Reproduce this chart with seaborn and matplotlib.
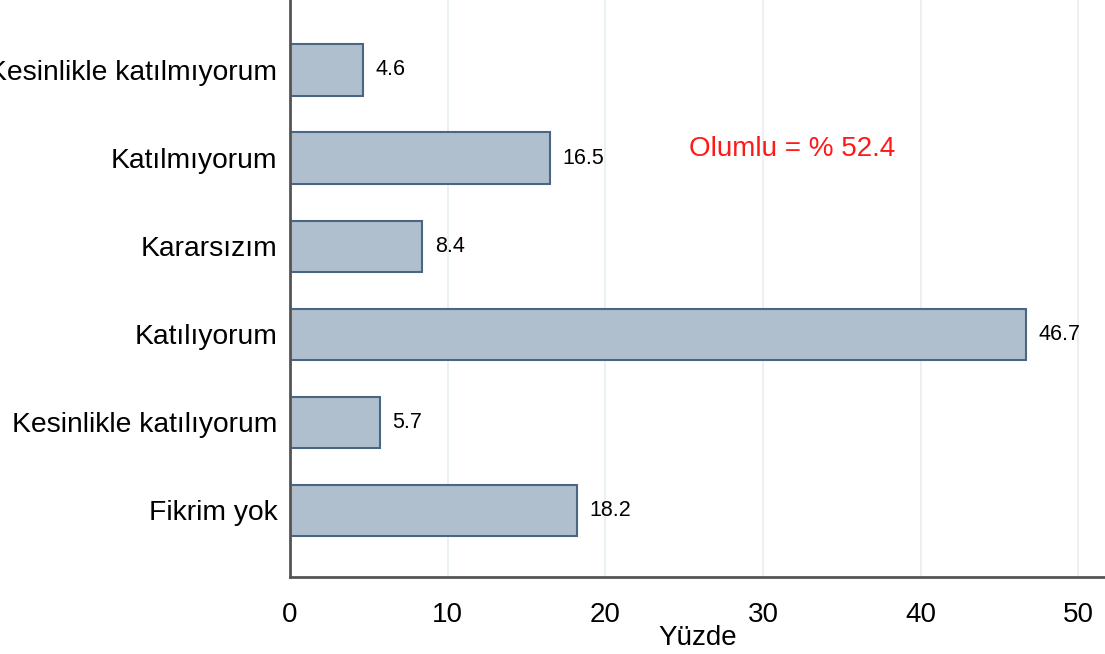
import matplotlib
matplotlib.use("Agg")
import matplotlib.pyplot as plt
import seaborn as sns
import pandas as pd

# answers and their share (%)
categories = ["Kesinlikle katılmıyorum", "Katılmıyorum", "Kararsızım",
              "Katılıyorum", "Kesinlikle katılıyorum", "Fikrim yok"]
values = [4.6, 16.5, 8.4, 46.7, 5.7, 18.2]
x_ticks = [0, 10, 20, 30, 40, 50]
note = "Olumlu = % 52.4"

sns.set_style("white")
plt.rcParams['font.family'] = ['Liberation Sans', 'DejaVu Sans']

data = pd.DataFrame({'cevap': categories, 'yuzde': values})

fig = plt.figure(figsize=(11.05, 6.54), dpi=100)
ax = fig.add_axes([290 / 1105, 77 / 654, 815 / 1105, 577 / 654])

sns.barplot(data=data, x='yuzde', y='cevap', orient='h', ax=ax,
            color='#b0bfcd', edgecolor='#4b6584', linewidth=1.5,
            width=0.58, saturation=1)

# values next to the bars
ax.bar_label(ax.containers[0], labels=[f"{v:.1f}" for v in values],
             padding=9, fontsize=15.5, color='#000000')

ax.text(31.85, 0.90, note, color='#ff1a1a', fontsize=20,
        ha='center', va='center')

ax.set_xlim(0, 51.7)
ax.set_ylim(5.76, -0.795)
ax.set_xticks(x_ticks)
ax.xaxis.grid(True, color='#e6eff2', linewidth=1.2)
ax.set_axisbelow(True)

ax.set_xlabel("Yüzde", fontsize=20, labelpad=-2, color='#000000')
ax.set_ylabel("")
ax.tick_params(axis='x', labelsize=20, length=10, width=1.2, color='#444444',
               labelcolor='#000000', direction='out', pad=8)
ax.tick_params(axis='y', labelsize=20.3, length=0, pad=9, labelcolor='#000000')

for side in ['top', 'right']:
    ax.spines[side].set_visible(False)
for side in ['left', 'bottom']:
    ax.spines[side].set_color('#555555')
    ax.spines[side].set_linewidth(2)

fig.savefig('out.png', dpi=100)
